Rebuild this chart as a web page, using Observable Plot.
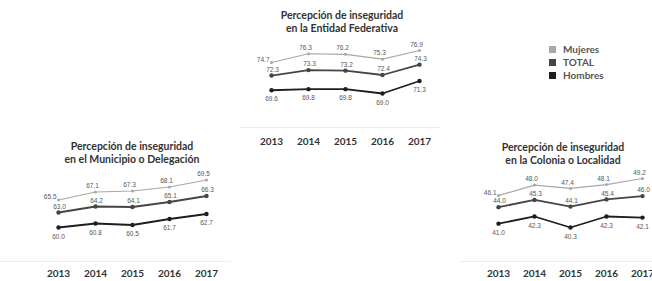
<!DOCTYPE html>
<html>
<head>
<meta charset="utf-8">
<script src="https://cdn.jsdelivr.net/npm/d3@7"></script>
<script src="https://cdn.jsdelivr.net/npm/@observablehq/plot@0.6"></script>
<style>
  html, body { margin: 0; padding: 0; background: #fff; }
  #root { position: relative; width: 652px; height: 281px; overflow: hidden; background: #fff; font-family: Lato, "Open Sans", sans-serif; }
  .panel { position: absolute; max-width: none !important; }
  .title { position: absolute; transform: translateX(-50%); text-align: center; white-space: nowrap;
           font-family: Lato, sans-serif; font-weight: bold; font-size: 10.5px; line-height: 13px; color: #333; }
  .legend { position: absolute; left: 549px; top: 43px; font-family: Lato, sans-serif; font-weight: bold; font-size: 10px; color: #555; }
  .legend div { height: 13px; line-height: 13px; display: flex; align-items: center; }
  .legend span.sw { display: inline-block; width: 7px; height: 7px; margin-right: 7px; }
</style>
</head>
<body>
<div id="root"></div>
<script>
// ---- data ----
const years = ["2013", "2014", "2015", "2016", "2017"];
const seriesNames = ["Mujeres", "TOTAL", "Hombres"];

const entidadTitle = ["Percepción de inseguridad", "en la Entidad Federativa"];
const entidadMujeres = [74.7, 76.3, 76.2, 75.3, 76.9];
const entidadTotal   = [72.3, 73.3, 73.2, 72.4, 74.3];
const entidadHombres = [69.6, 69.8, 69.8, 69.0, 71.3];

const municipioTitle = ["Percepción de inseguridad", "en el Municipio o Delegación"];
const municipioMujeres = [65.5, 67.1, 67.3, 68.1, 69.5];
const municipioTotal   = [63.0, 64.2, 64.1, 65.1, 66.3];
const municipioHombres = [60.0, 60.8, 60.5, 61.7, 62.7];

const coloniaTitle = ["Percepción de inseguridad", "en la Colonia o Localidad"];
const coloniaMujeres = [46.1, 48.0, 47.4, 48.1, 49.2];
const coloniaTotal   = [44.0, 45.3, 44.1, 45.4, 46.0];
const coloniaHombres = [41.0, 42.3, 40.3, 42.3, 42.1];

// ---- styles ----
const colors = { Mujeres: "#a8a8a8", TOTAL: "#454545", Hombres: "#1e1e1e" };
const root = document.getElementById("root");
const fmt = d3.format(".1f");

function panel(cfg) {
  const rows = s => years.map((year, i) => ({ year, value: s[i] }));
  const M = rows(cfg.mujeres), T = rows(cfg.total), H = rows(cfg.hombres);
  const lab = { fontSize: 6.5, fontFamily: "Liberation Sans, Arial, sans-serif", fill: "#555", text: d => fmt(d.value) };
  const svg = Plot.plot({
    width: cfg.width, height: cfg.height,
    marginTop: 0, marginLeft: 0, marginRight: 0, marginBottom: cfg.marginBottom,
    style: { background: "transparent", overflow: "visible" },
    x: { type: "point", domain: years, range: cfg.xRange, padding: 0, label: null },
    y: { domain: cfg.yDomain, range: cfg.yRange, axis: null },
    marks: [
      Plot.frame({ anchor: "bottom", stroke: "#ededed" }),
      Plot.axisX({ tickSize: 0, tickPadding: cfg.tickPadding, fontSize: 10, fontWeight: "bold",
                   fontFamily: "Lato, sans-serif", fill: "#333", label: null }),
      Plot.line(M, { x: "year", y: "value", stroke: colors.Mujeres, strokeWidth: 1.2 }),
      Plot.dot(M, { x: "year", y: "value", r: 1.5, fill: colors.Mujeres }),
      Plot.line(T, { x: "year", y: "value", stroke: colors.TOTAL, strokeWidth: 1.8 }),
      Plot.dot(T, { x: "year", y: "value", r: 2.2, fill: colors.TOTAL }),
      Plot.line(H, { x: "year", y: "value", stroke: colors.Hombres, strokeWidth: 1.8 }),
      Plot.dot(H, { x: "year", y: "value", r: 2.2, fill: colors.Hombres }),
      Plot.text(M.slice(0, 1), { x: "year", y: "value", ...lab, textAnchor: "end", dx: -2, dy: -3 }),
      Plot.text(M.slice(1), { x: "year", y: "value", ...lab, dx: -3, dy: -6 }),
      Plot.text(T, { x: "year", y: "value", ...lab, dx: 1, dy: -6 }),
      Plot.text(H, { x: "year", y: "value", ...lab, dx: 0, dy: 9 })
    ]
  });
  svg.classList.add("panel");
  svg.style.left = cfg.left + "px";
  svg.style.top = cfg.top + "px";
  svg.style.position = "absolute";
  svg.style.maxWidth = "none";
  root.appendChild(svg);

  const t = document.createElement("div");
  t.className = "title";
  t.style.left = cfg.titleX + "px";
  t.style.top = cfg.titleY + "px";
  t.innerHTML = cfg.title.join("<br>");
  root.appendChild(t);
}

panel({
  title: entidadTitle, titleX: 342, titleY: 9,
  mujeres: entidadMujeres, total: entidadTotal, hombres: entidadHombres,
  left: 240, top: 30, width: 200, height: 125, marginBottom: 28, tickPadding: 10,
  xRange: [30, 179], yDomain: [69.0, 76.9], yRange: [63, 20]
});

panel({
  title: municipioTitle, titleX: 132, titleY: 140,
  mujeres: municipioMujeres, total: municipioTotal, hombres: municipioHombres,
  left: 0, top: 165, width: 230, height: 116, marginBottom: 20, tickPadding: 8,
  xRange: [57, 206], yDomain: [60.0, 69.5], yRange: [62, 14.5]
});

panel({
  title: coloniaTitle, titleX: 563, titleY: 141,
  mujeres: coloniaMujeres, total: coloniaTotal, hombres: coloniaHombres,
  left: 460, top: 165, width: 200, height: 116, marginBottom: 20, tickPadding: 8,
  xRange: [36, 183], yDomain: [40.3, 49.2], yRange: [62, 13]
});

// legend
const lg = document.createElement("div");
lg.className = "legend";
for (const name of seriesNames) {
  const row = document.createElement("div");
  row.innerHTML = `<span class="sw" style="background:${colors[name]}"></span>${name}`;
  lg.appendChild(row);
}
root.appendChild(lg);
</script>
</body>
</html>
